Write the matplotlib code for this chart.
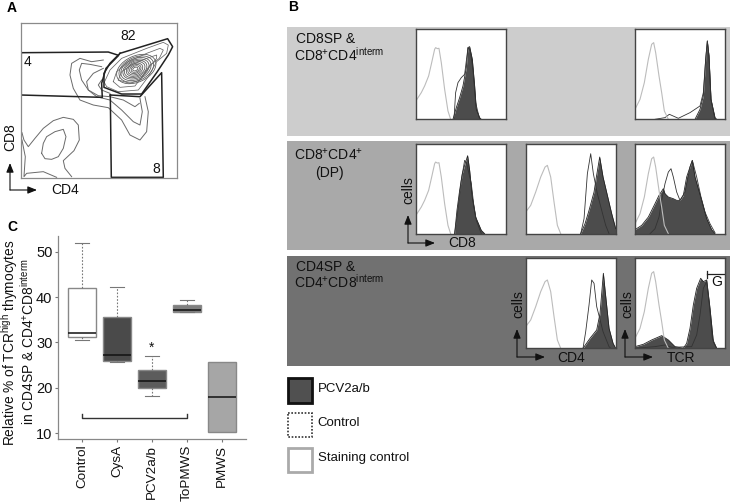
import matplotlib
matplotlib.use("Agg")
import matplotlib.pyplot as plt
from matplotlib.patches import Rectangle, Ellipse

plt.rcParams['font.family'] = ['Liberation Sans', 'DejaVu Sans']
plt.rcParams['mathtext.fontset'] = 'custom'
plt.rcParams['mathtext.rm'] = 'Liberation Sans'
plt.rcParams['mathtext.default'] = 'rm'

# ---- Panel C data
box_labels = ['Control', 'CysA', 'PCV2a/b', 'ToPMWS', 'PMWS']
box_low = [30.6, 25.7, 18.3, 36.7, 10.2]
box_q1 = [31.2, 25.9, 20.0, 36.8, 10.2]
box_med = [32.0, 27.3, 21.5, 37.1, 18.0]
box_q3 = [42.0, 35.5, 24.0, 38.2, 25.7]
box_high = [52.0, 42.3, 27.0, 39.3, 25.7]
box_fill = ['#ffffff', '#4a4a4a', '#5c5c5c', '#7e7e7e', '#a6a6a6']

# ---- Panel A gates (picture units)
gate4_x = [64, 325, 356, 318, 305, 307, 64, 64]
gate4_y = [158, 156, 166, 205, 250, 292, 285, 158]
gate82_x = [360, 503, 518, 505, 472, 425, 365, 312, 312, 330, 360]
gate82_y = [160, 116, 140, 165, 215, 282, 282, 262, 220, 190, 160]
gate8_x = [331, 420, 485, 490, 334, 331]
gate8_y = [285, 290, 218, 532, 532, 285]

# ---- Panel A contours
cont1_x = [310, 275, 240, 215, 210, 220, 240, 280, 325, 365, 390, 420, 440, 445, 435]
cont1_y = [180, 185, 175, 190, 225, 265, 300, 315, 323, 360, 405, 420, 395, 335, 290]
cont2_x = [305, 270, 245, 238, 245, 265, 290, 330, 365, 400, 420, 427, 420]
cont2_y = [200, 193, 190, 210, 240, 270, 290, 300, 330, 365, 375, 335, 295]
cont3_x = [310, 280, 260, 265, 295, 330, 370, 405, 418]
cont3_y = [205, 220, 245, 270, 287, 290, 300, 320, 310]
cont7_x = [305, 295, 305, 330]
cont7_y = [240, 255, 270, 280]
cont4_x = [66, 72, 85, 105, 130, 160, 190, 220, 235, 238, 222, 190, 195, 215]
cont4_y = [398, 420, 440, 415, 385, 362, 352, 358, 375, 420, 452, 482, 505, 530]
cont5_x = [125, 130, 140, 165, 190, 198, 190, 175, 155, 135, 125]
cont5_y = [460, 430, 410, 395, 388, 410, 445, 470, 478, 476, 460]
cont6_x = [66, 76, 72, 80, 130, 170]
cont6_y = [420, 470, 530, 520, 515, 532]
outer1_x = [313, 330, 365, 440, 490, 505, 500, 470, 445, 415, 355, 320, 313]
outer1_y = [247, 210, 175, 145, 127, 135, 160, 185, 230, 270, 275, 260, 247]
outer2_x = [340, 350, 385, 440, 480, 490, 478, 450, 430, 405, 360, 340]
outer2_y = [245, 215, 185, 160, 145, 150, 175, 195, 225, 258, 262, 245]
outer3_x = [355, 365, 395, 440, 470, 470, 445, 420, 390, 355]
outer3_y = [240, 215, 195, 175, 165, 175, 205, 240, 250, 240]
ring_cx = [409, 409, 408, 408, 407, 407, 406, 406, 406, 406]
ring_cy = [207, 207, 207, 207, 207, 207, 207, 207, 207, 207]
ring_w = [125, 110, 96, 83, 71, 59, 47, 36, 26, 16]
ring_h = [78, 70, 62, 54, 47, 40, 33, 25, 18, 10]

# ---- Panel B histograms: x channel and height
st_a_x = [0, 15, 25, 37, 45, 55, 58, 63, 68, 75, 85, 95, 103]
st_a_y = [57, 80, 100, 130, 165, 210, 215, 212, 213, 170, 90, 25, 0]
st_b_x = [0, 15, 30, 45, 58, 65, 75, 85, 95, 105]
st_b_y = [65, 85, 125, 170, 200, 205, 170, 95, 25, 0]
st_c_x = [0, 15, 28, 40, 50, 56, 62, 72, 80, 88, 100]
st_c_y = [30, 60, 110, 180, 225, 230, 200, 130, 80, 25, 0]

f11_x = [110, 120, 130, 140, 150, 155, 160, 168, 175, 180, 190, 195]
f11_y = [0, 35, 65, 100, 155, 215, 218, 180, 100, 30, 5, 0]
c11_x = [113, 118, 125, 135, 145, 155, 162, 170, 178, 190]
c11_y = [0, 80, 110, 125, 135, 215, 205, 150, 50, 0]
f13_x = [180, 195, 205, 212, 217, 222, 228, 240, 245]
f13_y = [0, 30, 70, 180, 235, 190, 60, 5, 0]
c13_x = [60, 90, 103, 130, 165, 180, 195, 205, 212, 217, 222, 228, 240]
c13_y = [0, 5, 15, 3, 20, 30, 40, 80, 180, 235, 190, 60, 0]
f21_x = [115, 122, 130, 138, 145, 154, 160, 168, 178, 195, 205]
f21_y = [0, 70, 130, 180, 205, 234, 190, 110, 50, 10, 0]
c21_x = [115, 122, 135, 145, 150, 165, 172, 180, 195]
c21_y = [0, 50, 160, 220, 215, 150, 90, 40, 0]
f22_x = [165, 178, 190, 205, 212, 222, 232, 245, 258, 270]
f22_y = [0, 30, 70, 125, 170, 230, 170, 115, 60, 15]
c22_x = [165, 175, 185, 195, 203, 215, 228, 240, 250]
c22_y = [0, 45, 180, 240, 180, 120, 70, 25, 0]
f23_x = [0, 20, 40, 60, 72, 85, 90, 100, 115, 125, 135, 145, 155, 165, 172, 180, 190, 200, 215, 230, 240]
f23_y = [12, 25, 50, 90, 115, 135, 120, 110, 105, 100, 100, 115, 170, 200, 220, 170, 135, 100, 45, 12, 0]
c23_x = [45, 60, 72, 80, 90, 100, 108, 115, 125, 135, 150, 165, 172, 185, 198, 210, 225, 240]
c23_y = [0, 15, 50, 100, 150, 185, 195, 170, 125, 100, 125, 200, 220, 170, 110, 65, 30, 3]
f32_x = [172, 193, 213, 223, 233, 238, 250, 262, 270]
f32_y = [0, 30, 55, 105, 225, 175, 60, 15, 0]
c32_x = [172, 180, 190, 198, 205, 213, 222, 232, 250, 255]
c32_y = [0, 50, 130, 205, 195, 125, 90, 50, 5, 0]
f33_x = [0, 25, 50, 80, 100, 120, 145, 155, 165, 175, 185, 197, 205, 215, 225, 235, 245]
f33_y = [5, 12, 25, 38, 25, 5, 0, 15, 60, 130, 180, 210, 200, 205, 120, 20, 0]
c33_x = [0, 60, 90, 110, 170, 185, 195, 205, 215, 222, 232, 245]
c33_y = [0, 5, 10, 3, 5, 40, 100, 180, 200, 140, 30, 0]

fig = plt.figure(figsize=(7.3, 5.03), dpi=100)
W, H = 730, 503


def pax(x0, y0, x1, y1, **kw):
    return fig.add_axes([x0 / W, 1 - y1 / H, (x1 - x0) / W, (y1 - y0) / H], **kw)


# Overlay in pixel space for layout furniture
bg = pax(0, 0, W, H)
bg.set_xlim(0, W)
bg.set_ylim(H, 0)
bg.axis('off')
for y0, y1, col in [(26.5, 136, '#cdcdcd'), (141, 250, '#a9a9a9'), (256, 366, '#717171')]:
    bg.add_patch(Rectangle((287, y0), 443, y1 - y0, fc=col, ec='none'))

for (y0, y1, fc, ec, ls, lw, label) in [
    (378, 403, '#505050', '#111111', '-', 2.0, 'PCV2a/b'),
    (412.5, 437, '#ffffff', '#333333', (0, (1, 1)), 1.2, 'Control'),
    (447.5, 472, '#ffffff', '#aaaaaa', '-', 2.0, 'Staining control'),
]:
    bg.add_patch(Rectangle((287.5, y0), 24.5, y1 - y0, fc=fc, ec=ec, ls=ls, lw=lw))
    bg.text(317.5, (y0 + y1) / 2 - 2, label, fontsize=9.5, va='center', color='#111111')

for s, x, y in [('A', 7, 8), ('B', 288, 7), ('C', 7, 227)]:
    bg.text(x, y, s, fontsize=10, fontweight='bold', ha='left', va='center')

TXT = 10
for s, x, y, ha in [
    ('CD8SP &', 295.5, 39, 'left'),
    ('CD8$^{+}$CD4$^{\\mathrm{interm}}$', 294.5, 55, 'left'),
    ('CD8$^{+}$CD4$^{+}$', 294.5, 155, 'left'),
    ('(DP)', 329, 173, 'center'),
    ('CD4SP &', 295.5, 267, 'left'),
    ('CD4$^{+}$CD8$^{\\mathrm{interm}}$', 294.5, 282, 'left'),
    ('CD8', 462, 243, 'center'),
    ('CD4', 571, 358, 'center'),
    ('TCR', 681, 358, 'center'),
    ('CD4', 65, 190, 'center'),
]:
    bg.text(x, y, s, fontsize=TXT, ha=ha, va='center', color='#111111')
bg.text(10, 137, 'CD8', fontsize=TXT, rotation=90, ha='center', va='center', color='#111111')
for x, y in [(408, 190), (518, 304), (627, 304)]:
    bg.text(x, y, 'cells', fontsize=TXT, rotation=90, ha='center', va='center', color='#111111')


def arrows(x, y, up, right):
    st = dict(arrowstyle='-|>,head_length=0.55,head_width=0.22', color='#111111', lw=0.8,
              shrinkA=0, shrinkB=0)
    bg.annotate('', xy=(x, y - up), xytext=(x, y), arrowprops=st)
    bg.annotate('', xy=(x + right, y), xytext=(x, y), arrowprops=st)


arrows(10, 190, 27, 27)
arrows(408, 243, 28, 27)
arrows(517, 357, 28, 28)
arrows(625, 357, 28, 28)

# ---- Panel A
a = pax(21.3, 22.7, 177.3, 178)
a.set_xlim(64, 532)
a.set_ylim(534, 68)
a.set_xticks([])
a.set_yticks([])
for sp in a.spines.values():
    sp.set_color('#8a8a8a')
    sp.set_linewidth(0.9)
for cx, cy in [(cont1_x, cont1_y), (cont2_x, cont2_y), (cont3_x, cont3_y), (cont7_x, cont7_y),
               (cont4_x, cont4_y), (cont5_x, cont5_y), (cont6_x, cont6_y)]:
    a.plot(cx, cy, color='#6a6a6a', lw=0.7)
for cx, cy in [(outer1_x, outer1_y), (outer2_x, outer2_y), (outer3_x, outer3_y)]:
    a.plot(cx, cy, color='#666666', lw=0.55)
for cx, cy, w, h in zip(ring_cx, ring_cy, ring_w, ring_h):
    a.add_patch(Ellipse((cx, cy), w, h, angle=-25, fc='none', ec='#555555', lw=0.55))
for gx, gy in [(gate4_x, gate4_y), (gate82_x, gate82_y), (gate8_x, gate8_y)]:
    a.plot(gx, gy, color='#222222', lw=1.1)
a.text(385, 107, '82', fontsize=TXT, ha='center', va='center', color='#111111')
a.text(82, 186, '4', fontsize=TXT, ha='center', va='center', color='#111111')
a.text(468, 508, '8', fontsize=TXT, ha='center', va='center', color='#111111')

# ---- Panel B
COLS = {1: (416.3, 506.3), 2: (525.7, 615.7), 3: (635, 725)}
ROWS = {1: (29.3, 119.3), 2: (143.7, 233.7), 3: (258.3, 348.3)}
panels = [
    (1, 1, st_a_x, st_a_y, f11_x, f11_y, c11_x, c11_y),
    (1, 3, st_c_x, st_c_y, f13_x, f13_y, c13_x, c13_y),
    (2, 1, st_a_x, st_a_y, f21_x, f21_y, c21_x, c21_y),
    (2, 2, st_b_x, st_b_y, f22_x, f22_y, c22_x, c22_y),
    (2, 3, st_c_x, st_c_y, f23_x, f23_y, c23_x, c23_y),
    (3, 2, st_b_x, st_b_y, f32_x, f32_y, c32_x, c32_y),
    (3, 3, st_c_x, st_c_y, f33_x, f33_y, c33_x, c33_y),
]
for r, c, sx, sy, fx, fy, cx, cy in panels:
    h = pax(COLS[c][0], ROWS[r][0], COLS[c][1], ROWS[r][1])
    h.set_xlim(0, 270)
    h.set_ylim(0, 270)
    h.set_xticks([])
    h.set_yticks([])
    for sp in h.spines.values():
        sp.set_color('#444444')
        sp.set_linewidth(1.0)
    h.fill_between(fx, fy, 0, color='#4c4c4c', lw=0)
    h.plot(fx, fy, color='#222222', lw=0.6)
    h.plot(cx, cy, color='#333333', lw=0.6)
    h.plot(sx, sy, color='#bcbcbc', lw=0.8)
    if (r, c) == (3, 3):
        h.plot([215, 270], [222, 222], color='#222222', lw=0.9)
        h.plot([215, 215], [212, 232], color='#222222', lw=0.9)
        h.text(245, 198, 'G', fontsize=TXT, ha='center', va='center', color='#111111')

# ---- Panel C
b = pax(58, 235.7, 246, 439)
b.set_xlim(0.30, 5.70)
b.set_ylim(8.75, 53.5)
stats = [dict(label=l, whislo=lo, q1=q1, med=m, q3=q3, whishi=hi, fliers=[])
         for l, lo, q1, m, q3, hi in zip(box_labels, box_low, box_q1, box_med, box_q3, box_high)]
parts = b.bxp(stats, positions=range(1, 6), widths=0.8, patch_artist=True,
              boxprops=dict(edgecolor='#888888', linewidth=1.0),
              medianprops=dict(color='#111111', linewidth=1.1),
              whiskerprops=dict(color='#777777', linewidth=0.8, linestyle=(0, (1.5, 1.5))),
              capprops=dict(color='#777777', linewidth=0.8), capwidths=0.4,
              showfliers=False)
for patch, col in zip(parts['boxes'], box_fill):
    patch.set_facecolor(col)
for cap in parts['caps'][-2:]:
    cap.set_visible(False)
b.plot([1, 1, 4, 4], [14.3, 13.3, 13.3, 14.3], color='#333333', lw=1.0)
b.text(3, 28.8, '*', fontsize=10, ha='center', va='center', color='#111111')
for side in ['top', 'right']:
    b.spines[side].set_visible(False)
for side in ['left', 'bottom']:
    b.spines[side].set_color('#888888')
    b.spines[side].set_linewidth(0.9)
b.set_yticks([10, 20, 30, 40, 50])
b.set_xticks(range(1, 6))
b.set_xticklabels(box_labels, rotation=90, fontsize=9.7, color='#111111')
b.tick_params(axis='both', color='#777777', length=2.5, width=0.8, pad=1.5)
b.tick_params(axis='y', labelsize=10.5, labelcolor='#111111')
bg.text(10, 343, 'Relative % of TCR$^{\\mathrm{high}}$ thymocytes', fontsize=9.9, rotation=90,
        ha='center', va='center', color='#111111')
bg.text(28, 342, 'in CD4SP & CD4$^{+}$CD8$^{\\mathrm{interm}}$', fontsize=9.9, rotation=90,
        ha='center', va='center', color='#111111')

fig.savefig('out.png', dpi=100)
